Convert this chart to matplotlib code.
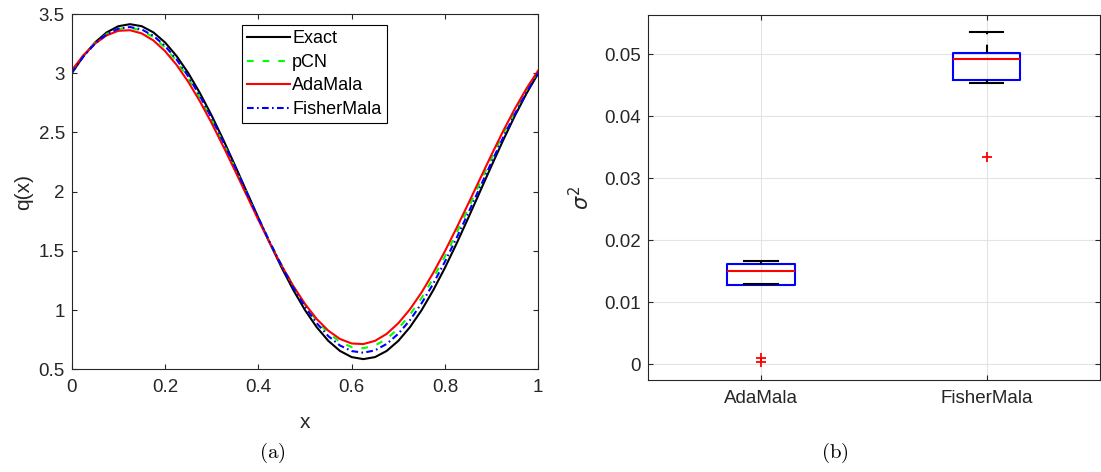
import numpy as np
import matplotlib
matplotlib.use('Agg')
import matplotlib.pyplot as plt

plt.rcParams['font.family'] = ['Liberation Sans', 'DejaVu Sans']
plt.rcParams['mathtext.fontset'] = 'cm'

# ---------------- data: panel (a) ----------------
x_grid = np.linspace(0.0, 1.0, 41)
q_exact = [3.000, 3.144, 3.260, 3.345, 3.397, 3.414, 3.397, 3.345, 3.260, 3.144,
           3.000, 2.831, 2.642, 2.437, 2.221, 2.000, 1.779, 1.563, 1.358, 1.169,
           1.000, 0.856, 0.740, 0.655, 0.603, 0.586, 0.603, 0.655, 0.740, 0.856,
           1.000, 1.169, 1.358, 1.563, 1.779, 2.000, 2.221, 2.437, 2.642, 2.831, 3.000]
q_pcn = [3.018, 3.151, 3.256, 3.331, 3.374, 3.384, 3.361, 3.305, 3.218, 3.101,
         2.958, 2.792, 2.608, 2.409, 2.201, 1.989, 1.777, 1.572, 1.379, 1.201,
         1.044, 0.911, 0.806, 0.731, 0.688, 0.678, 0.701, 0.757, 0.844, 0.961,
         1.104, 1.270, 1.454, 1.653, 1.861, 2.074, 2.285, 2.490, 2.683, 2.861, 3.018]
q_adamala = [3.024, 3.151, 3.250, 3.320, 3.358, 3.363, 3.336, 3.277, 3.187, 3.069,
             2.926, 2.761, 2.578, 2.381, 2.177, 1.969, 1.762, 1.562, 1.375, 1.203,
             1.052, 0.925, 0.826, 0.756, 0.718, 0.713, 0.740, 0.799, 0.889, 1.007,
             1.150, 1.315, 1.498, 1.695, 1.899, 2.107, 2.314, 2.514, 2.702, 2.873, 3.024]
q_fishermala = [3.002, 3.140, 3.250, 3.329, 3.376, 3.390, 3.370, 3.316, 3.230, 3.115,
                2.972, 2.806, 2.620, 2.419, 2.209, 1.993, 1.779, 1.570, 1.372, 1.189,
                1.028, 0.890, 0.780, 0.701, 0.654, 0.640, 0.660, 0.714, 0.800, 0.915,
                1.058, 1.224, 1.410, 1.611, 1.821, 2.037, 2.251, 2.460, 2.658, 2.841, 3.002]
series_labels = ['Exact', 'pCN', 'AdaMala', 'FisherMala']

# ---------------- data: panel (b) ----------------
box_labels = ['AdaMala', 'FisherMala']
box_q1 = [0.01273, 0.04585]
box_med = [0.01509, 0.04928]
box_q3 = [0.01622, 0.05024]
box_whislo = [0.01290, 0.04541]
box_whishi = [0.01675, 0.05353]
box_fliers = [[0.00039, 0.00103], [0.03345]]

W, H = 1101, 472
fig = plt.figure(figsize=(W / 100, H / 100), dpi=100)

def frac_rect(x0, y0, x1, y1):
    return [x0 / W, 1 - y1 / H, (x1 - x0) / W, (y1 - y0) / H]

axis_col = '#262626'
tick_fs = 13.5

# ---------------- panel (a) ----------------
ax1 = fig.add_axes(frac_rect(71.7, 14, 538.3, 369.3))
ax1.plot(x_grid, q_exact, color='black', lw=1.5, label=series_labels[0])
ax1.plot(x_grid, q_pcn, color='#00ff00', lw=1.5, dashes=(3.2, 4.3), label=series_labels[1])
ax1.plot(x_grid, q_adamala, color='#ff0000', lw=1.5, label=series_labels[2])
ax1.plot(x_grid, q_fishermala, color='#0000ff', lw=1.5, dashes=(3.2, 1.6, 0.8, 1.6),
         label=series_labels[3])
ax1.set_xlim(0, 1)
ax1.set_ylim(0.5, 3.5)
ax1.set_xticks([0, 0.2, 0.4, 0.6, 0.8, 1])
ax1.set_xticklabels(['0', '0.2', '0.4', '0.6', '0.8', '1'])
ax1.set_yticks([0.5, 1, 1.5, 2, 2.5, 3, 3.5])
ax1.set_yticklabels(['0.5', '1', '1.5', '2', '2.5', '3', '3.5'])
ax1.set_xlabel('x', fontsize=15, color=axis_col, labelpad=12)
ax1.set_ylabel('q(x)', fontsize=15, color=axis_col, labelpad=4)
leg = ax1.legend(loc='upper left', bbox_to_anchor=(0.364, 0.969), borderaxespad=0,
                 fontsize=13, handlelength=2.4, handletextpad=0.1, labelspacing=0.36,
                 borderpad=0.3, fancybox=False, framealpha=1, edgecolor='black')
leg.get_frame().set_linewidth(0.8)

# ---------------- panel (b) ----------------
ax2 = fig.add_axes(frac_rect(647.7, 15, 1099.5, 380))
stats = []
for i in range(len(box_labels)):
    stats.append(dict(label=box_labels[i], q1=box_q1[i], med=box_med[i], q3=box_q3[i],
                      whislo=box_whislo[i], whishi=box_whishi[i], fliers=box_fliers[i]))
ax2.bxp(stats, positions=[1, 2], widths=0.3, capwidths=0.15, showfliers=True,
        boxprops=dict(color='#0000ff', lw=1.5),
        medianprops=dict(color='#ff0000', lw=1.5),
        whiskerprops=dict(color='black', lw=1.5, linestyle=(0, (4, 5))),
        capprops=dict(color='black', lw=1.5),
        flierprops=dict(marker='+', markeredgecolor='#ff0000', markersize=7, mew=1.3,
                        linestyle='none'))
ax2.set_xlim(0.5, 2.5)
ax2.set_ylim(-0.0025, 0.0563)
ax2.set_yticks([0, 0.01, 0.02, 0.03, 0.04, 0.05])
ax2.set_yticklabels(['0', '0.01', '0.02', '0.03', '0.04', '0.05'])
ax2.set_xticks([1, 2])
ax2.set_xticklabels(box_labels)
ax2.grid(True, color='#e3e3e3', lw=0.8)
ax2.set_axisbelow(True)
ylab = ax2.set_ylabel(r'$\sigma^2$', fontsize=15, color=axis_col, labelpad=8)
ylab.set_math_fontfamily('dejavusans')

for ax in (ax1, ax2):
    for s in ax.spines.values():
        s.set_color(axis_col)
        s.set_linewidth(0.8)
    ax.tick_params(direction='in', length=3.6, width=0.8, colors=axis_col,
                   labelsize=tick_fs, top=True, right=True)
    ax.tick_params(axis='x', pad=7)
    ax.tick_params(axis='y', pad=5)

# captions
fig.text(272 / W, 1 - 452.7 / H, r'$\mathrm{(a)}$', fontsize=15, ha='center', va='center')
fig.text(835 / W, 1 - 452.7 / H, r'$\mathrm{(b)}$', fontsize=15, ha='center', va='center')

fig.savefig('out.png', dpi=100)
